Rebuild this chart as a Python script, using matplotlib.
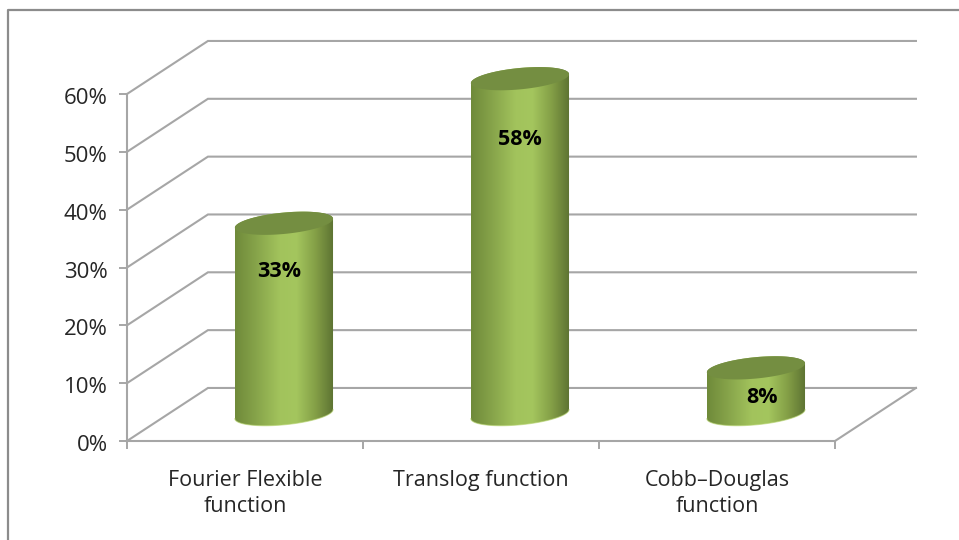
import numpy as np
import matplotlib
matplotlib.use("Agg")
import matplotlib.pyplot as plt
from matplotlib.colors import LinearSegmentedColormap
from matplotlib.lines import Line2D
from matplotlib.patches import Polygon
from matplotlib.transforms import ScaledTranslation

plt.rcParams['font.family'] = ['Open Sans', 'DejaVu Sans']

categories = ["Fourier Flexible\nfunction", "Translog function", "Cobb\u2013Douglas\nfunction"]
values = [33, 58, 8]
value_labels = ["33%", "58%", "8%"]
y_ticks = [0, 10, 20, 30, 40, 50, 60]

# where the value text sits on each cylinder (x shift in categories, y in percent)
label_dx = [-0.02, 0.0, 0.025]
label_y = [29.3, 52.1, 7.6]

W, H = 959, 540
GRID = "#a6a6a6"

# depth of the fake 3d box, in data units
DX = 0.343
DY = 9.17
# cylinders stand a bit less than half way back on the floor
BASE_X = 0.165
BASE_Y = 4.65
# ellipse shape: half width (categories), half height and tilt (percent)
RX = 0.208
RY = 1.85
TILT = 0.78

body_cmap = LinearSegmentedColormap.from_list(
    "body", [(0, "#6f8a3a"), (0.2, "#85a249"), (0.45, "#a2c35c"), (0.62, "#a4c65e"),
             (0.82, "#839e46"), (1, "#5c7232")])

fig = plt.figure(figsize=(W / 100, H / 100), dpi=100, facecolor="white")
ax = fig.add_axes([127 / W, (H - 441) / H, 708 / W, 347 / H])
ax.patch.set_visible(False)

# outer chart border, only top and left are visible
fig.add_artist(Line2D([8 / W, 8 / W, 1], [0, 1 - 10 / H, 1 - 10 / H],
                      color="#8c8c8c", lw=1.6, transform=fig.transFigure))

# walls and floor
for v in y_ticks:
    ax.plot([0, DX, 3 + DX], [v, v + DY, v + DY], color=GRID, lw=1.5,
            clip_on=False, zorder=1, solid_joinstyle="miter")
ax.plot([3, 3 + DX], [0, DY], color=GRID, lw=1.5, clip_on=False, zorder=1)

t = np.linspace(0, 2 * np.pi, 200)


def ellipse(cx, cy, tt):
    return cx + RX * np.cos(tt), cy + RY * np.sin(tt) + TILT * np.cos(tt)


for i, v in enumerate(values):
    cx = i + 0.5 + BASE_X
    y0 = BASE_Y
    y1 = y0 + v

    # side of the cylinder: lower half of the base ellipse, then back over the top one
    bx, by = ellipse(cx, y0, np.linspace(np.pi, 2 * np.pi, 100))
    tx, ty = ellipse(cx, y1, np.linspace(0, np.pi, 100))
    body = Polygon(np.column_stack([np.r_[bx, tx], np.r_[by, ty]]),
                   closed=True, fc="none", ec="none", transform=ax.transData)
    ax.add_patch(body)
    grad = np.linspace(0, 1, 256).reshape(1, -1)
    im = ax.imshow(grad, cmap=body_cmap, aspect="auto", interpolation="bilinear",
                   extent=[cx - RX, cx + RX, y0 - RY - TILT, y1 + RY + TILT], zorder=3)
    im.set_clip_path(body)
    # the tallest cylinder pokes out above the axes box
    im.set_clip_box(fig.bbox)

    # thin lit rim along the bottom edge
    ax.plot(bx, by, color="#b4d26c", lw=0.8, alpha=0.6, zorder=4, clip_on=False)

    # top cap
    cap_x, cap_y = ellipse(cx, y1, t)
    ax.fill(cap_x, cap_y, color="#748e41", zorder=5, clip_on=False, lw=0)

    ax.text(cx + label_dx[i], label_y[i], value_labels[i], ha="center", va="center",
            fontsize=15.5, fontweight="bold", color="black", zorder=6)

ax.set_xlim(0, 3)
ax.set_ylim(0, 60)

for side in ["top", "right"]:
    ax.spines[side].set_visible(False)
for side in ["left", "bottom"]:
    ax.spines[side].set_color(GRID)
    ax.spines[side].set_linewidth(1.5)

ax.set_yticks(y_ticks)
ax.set_yticklabels(["%d%%" % v for v in y_ticks], fontsize=16, color="#262626")
ax.tick_params(axis="y", length=6, width=1.4, color=GRID, pad=8)
# percent labels sit slightly below their ticks
nudge = ScaledTranslation(0, -2 / 100, fig.dpi_scale_trans)
for lab in ax.get_yticklabels():
    lab.set_transform(lab.get_transform() + nudge)

# group ticks on the boundaries, category names centred between them
ax.set_xticks([0, 1, 2, 3])
ax.set_xticklabels([])
ax.set_xticks([0.5, 1.5, 2.5], minor=True)
ax.set_xticklabels(categories, minor=True, fontsize=15.5, color="#262626", linespacing=1.32)
ax.tick_params(axis="x", which="major", length=6, width=1.4, color=GRID)
ax.tick_params(axis="x", which="minor", length=0, pad=21)

fig.savefig("out.png", dpi=100)
